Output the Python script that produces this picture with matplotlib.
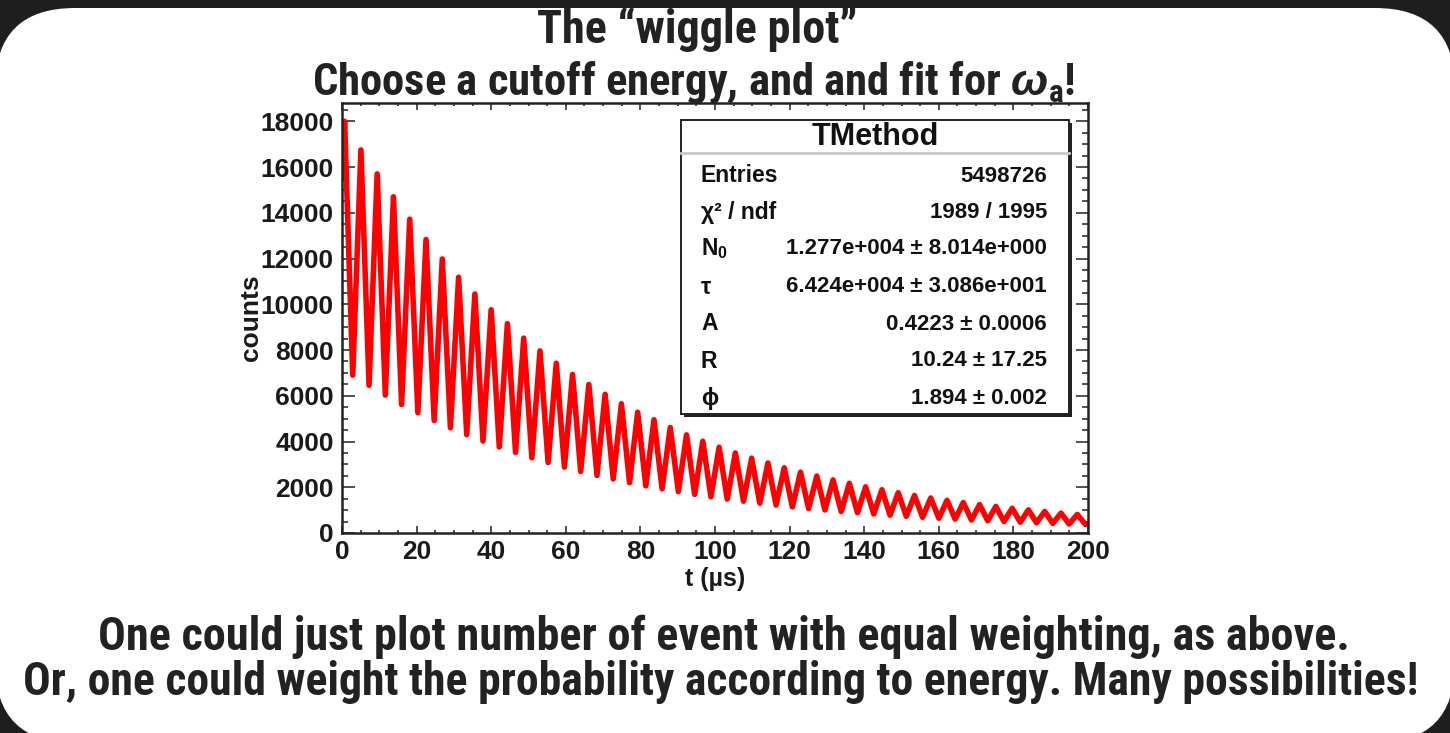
import numpy as np
import matplotlib
matplotlib.use("Agg")
import matplotlib.pyplot as plt
from matplotlib.patches import FancyBboxPatch, Rectangle
from matplotlib.lines import Line2D
from matplotlib.ticker import MultipleLocator

# curve: start point, then maxima and minima of the wiggle
t_start, counts_start = 0.0, 15500
peak_t = [0.7, 5.07, 9.43, 13.8, 18.16, 22.53, 26.89, 31.26, 35.62, 39.99,
          44.35, 48.72, 53.08, 57.45, 61.81, 66.18, 70.54, 74.91, 79.27, 83.64,
          88.0, 92.37, 96.73, 101.1, 105.46, 109.83, 114.19, 118.56, 122.92, 127.29,
          131.65, 136.02, 140.38, 144.75, 149.11, 153.48, 157.84, 162.21, 166.57, 170.94,
          175.3, 179.67, 184.03, 188.4, 192.76, 197.13]
peak_counts = [18000, 16750, 15700, 14700, 13720, 12830, 11980, 11180, 10450, 9760,
               9150, 8520, 7960, 7420, 6930, 6490, 6060, 5650, 5280, 4950,
               4610, 4290, 4010, 3750, 3500, 3270, 3060, 2850, 2660, 2490,
               2320, 2170, 2020, 1890, 1760, 1640, 1530, 1430, 1330, 1240,
               1160, 1080, 1010, 940, 870, 810]
trough_t = [2.88, 7.25, 11.61, 15.98, 20.34, 24.71, 29.07, 33.44, 37.8, 42.17,
            46.53, 50.9, 55.26, 59.63, 63.99, 68.36, 72.72, 77.09, 81.45, 85.82,
            90.18, 94.55, 98.91, 103.28, 107.64, 112.01, 116.37, 120.74, 125.1, 129.47,
            133.83, 138.2, 142.56, 146.93, 151.29, 155.66, 160.02, 164.39, 168.75, 173.12,
            177.48, 181.85, 186.21, 190.58, 194.94, 199.31]
trough_counts = [6900, 6460, 6030, 5620, 5260, 4920, 4600, 4300, 4020, 3760,
                 3520, 3290, 3080, 2880, 2690, 2520, 2360, 2200, 2060, 1930,
                 1810, 1690, 1580, 1480, 1390, 1300, 1220, 1140, 1070, 1005,
                 940, 885, 830, 778, 730, 686, 644, 605, 569, 535,
                 503, 473, 445, 419, 395, 372]
t_end, counts_end = 200.0, 380

stat_labels = ["Entries", "χ² / ndf", r"N$_\mathregular{0}$", "τ", "A", "R", "ϕ"]
stat_values = ["5498726", "1989 / 1995", "1.277e+004 ± 8.014e+000",
               "6.424e+004 ± 3.086e+001", "0.4223 ± 0.0006", "10.24 ± 17.25",
               "1.894 ± 0.002"]

t = [t_start]
counts = [counts_start]
for a, b, c, d in zip(peak_t, peak_counts, trough_t, trough_counts):
    t += [a, c]
    counts += [b, d]
t.append(t_end)
counts.append(counts_end)

W, H = 1450, 733
def fx(x):
    return x / W
def fy(y):
    return 1 - y / H

plt.rcParams["mathtext.fontset"] = "custom"
plt.rcParams["mathtext.rm"] = "Liberation Sans:bold"
plt.rcParams["mathtext.it"] = "Liberation Sans:italic:bold"
plt.rcParams["mathtext.bf"] = "Liberation Sans:bold"

root_font = ["Liberation Sans", "DejaVu Sans"]
slide_font = ["Liberation Sans Narrow", "DejaVu Sans Condensed", "Roboto Condensed", "DejaVu Sans"]

fig = plt.figure(figsize=(14.5, 7.33), dpi=100)
fig.patch.set_facecolor("#1e1e1e")
panel = FancyBboxPatch((-0.05, -0.1), 14.6, 7.35, boxstyle="round,pad=0,rounding_size=0.8",
                       transform=fig.dpi_scale_trans, fc="white", ec="none", zorder=-5)
fig.patches.append(panel)

ax = fig.add_axes([fx(342), fy(533), (1088 - 342) / W, (533 - 103) / H])
ax.set_zorder(1)
ax.plot(t, counts, color="red", lw=4.0, solid_joinstyle="round", solid_capstyle="round")
ax.set_xlim(0, 200)
ax.set_ylim(0, 18800)
ax.xaxis.set_major_locator(MultipleLocator(20))
ax.xaxis.set_minor_locator(MultipleLocator(5))
ax.yaxis.set_major_locator(MultipleLocator(2000))
ax.yaxis.set_minor_locator(MultipleLocator(500))
ax.tick_params(which="both", direction="in", top=True, right=True, width=1.2, color="#333333")
ax.tick_params(axis="y", which="major", length=9, pad=6)
ax.tick_params(axis="y", which="minor", length=4.5)
ax.tick_params(axis="x", which="major", length=5, pad=5)
ax.tick_params(axis="x", which="minor", length=2.5)
for s in ax.spines.values():
    s.set_linewidth(1.8)
    s.set_color("#222222")
for lab in ax.get_xticklabels() + ax.get_yticklabels():
    lab.set_fontfamily(root_font)
    lab.set_fontweight("bold")
    lab.set_fontsize(19)
    lab.set_color("#1a1a1a")
ax.set_ylabel("counts", family=root_font, weight="bold", size=19, color="#1a1a1a")
ax.set_xlabel("t (µs)", family=root_font, weight="bold", size=18, color="#1a1a1a")
ax.yaxis.set_label_coords(-0.106, 0.5)
ax.xaxis.set_label_coords(0.5, -0.078)

# stats box
bx0, by0, bx1, by1 = 681, 120, 1069, 414
fig.patches.append(Rectangle((fx(bx0 + 3), fy(by1 + 3)), (bx1 - bx0) / W, (by1 - by0) / H,
                             transform=fig.transFigure, fc="#222222", ec="none", zorder=3))
fig.patches.append(Rectangle((fx(bx0), fy(by1)), (bx1 - bx0) / W, (by1 - by0) / H,
                             transform=fig.transFigure, fc="white", ec="#222222", lw=1.4, zorder=4))
fig.lines.append(Line2D([fx(bx0), fx(bx1)], [fy(153), fy(153)], transform=fig.transFigure,
                        color="#c8c8c8", lw=2, zorder=5))
fig.text(fx(875), fy(137), "TMethod", ha="center", va="center", family=root_font,
         weight="bold", size=22, color="#111111", zorder=6)
row_y = [176, 212, 249, 287, 324, 361, 399]
for lab, val, y in zip(stat_labels, stat_values, row_y):
    fig.text(fx(701), fy(y), lab, ha="left", va="center", family=root_font,
             weight="bold", size=16.5, color="#111111", zorder=6)
    fig.text(fx(1047), fy(y), val, ha="right", va="center", family=root_font,
             weight="bold", size=16, color="#111111", zorder=6)

# slide text, scaled to the widths seen in the picture
slide = [
    ("The “wiggle plot”", 697, 30, 321),
    (r"Choose a cutoff energy, and and fit for $\omega_\mathregular{a}$!", 694, 82, 762),
    ("One could just plot number of event with equal weighting, as above.", 724, 637, 1252),
    ("Or, one could weight the probability according to energy. Many possibilities!", 721, 682, 1398),
]
renderer = fig.canvas.get_renderer()
for txt, x, y, w in slide:
    tt = fig.text(fx(x), fy(y), txt, ha="center", va="center", family=slide_font,
                  weight="bold", stretch="condensed", size=30, color="#222222", zorder=6)
    cur = tt.get_window_extent(renderer).width
    tt.set_fontsize(30 * w / cur)

fig.savefig("out.png", dpi=100, facecolor=fig.get_facecolor())
